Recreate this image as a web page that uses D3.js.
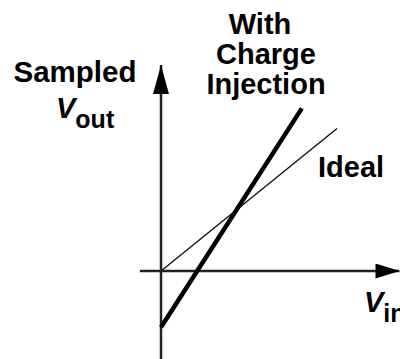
<!DOCTYPE html>
<html>
<head>
<meta charset="utf-8">
<script src="https://cdn.jsdelivr.net/npm/d3@7"></script>
<style>
  html, body { margin: 0; padding: 0; background: #fff; }
  text { font-family: "Liberation Sans", Arial, sans-serif; font-weight: bold; fill: #000; }
</style>
</head>
<body>
<div id="plot"></div>
<script>
// line endpoints in arbitrary units (Vin, Vout)
const idealVin = [0, 10]
const idealVout = [0, 8.1]
const chargeVin = [0, 8.0]
const chargeVout = [-3.2, 9.24]
// how far the axes run
const xAxisExtent = [-1.2, 13.55]
const yAxisExtent = [-5, 11.7]

const width = 400
const height = 359

const svg = d3.select('#plot')
  .append('svg')
  .attr('width', width)
  .attr('height', height)

const x = d3.scaleLinear().domain([0, 10]).range([161, 337])
const y = d3.scaleLinear().domain([0, 10]).range([271, 95])

// arrow heads
const defs = svg.append('defs')
defs.append('marker')
  .attr('id', 'arrowUp')
  .attr('markerUnits', 'userSpaceOnUse')
  .attr('viewBox', '0 0 29 16')
  .attr('refX', 29).attr('refY', 8)
  .attr('markerWidth', 29).attr('markerHeight', 16)
  .attr('orient', 'auto')
  .append('path')
  .attr('d', 'M0,0 L29,8 L0,16 Z')
  .attr('fill', '#000')
defs.append('marker')
  .attr('id', 'arrowRight')
  .attr('markerUnits', 'userSpaceOnUse')
  .attr('viewBox', '0 0 24 15')
  .attr('refX', 24).attr('refY', 7.5)
  .attr('markerWidth', 24).attr('markerHeight', 15)
  .attr('orient', 'auto')
  .append('path')
  .attr('d', 'M0,0 L24,7.5 L0,15 Z')
  .attr('fill', '#000')

// axes
svg.append('line')
  .attr('x1', x(xAxisExtent[0])).attr('x2', x(xAxisExtent[1]))
  .attr('y1', y(0)).attr('y2', y(0))
  .attr('stroke', '#222').attr('stroke-width', 2.5)
  .attr('marker-end', 'url(#arrowRight)')
svg.append('line')
  .attr('x1', x(0)).attr('x2', x(0))
  .attr('y1', y(yAxisExtent[0])).attr('y2', y(yAxisExtent[1]))
  .attr('stroke', '#222').attr('stroke-width', 2.5)
  .attr('marker-end', 'url(#arrowUp)')

const line = d3.line().x(d => x(d[0])).y(d => y(d[1]))

// ideal (thin)
svg.append('path')
  .datum(d3.zip(idealVin, idealVout))
  .attr('d', line)
  .attr('fill', 'none')
  .attr('stroke', '#111')
  .attr('stroke-width', 1.4)

// with charge injection (thick)
svg.append('path')
  .datum(d3.zip(chargeVin, chargeVout))
  .attr('d', line)
  .attr('fill', 'none')
  .attr('stroke', '#000')
  .attr('stroke-width', 4.5)

// labels
svg.append('text').attr('x', 75).attr('y', 82)
  .attr('text-anchor', 'middle').attr('font-size', 29.5).text('Sampled')

const vout = svg.append('text').attr('x', 56).attr('y', 118).attr('font-size', 29)
vout.append('tspan').attr('font-style', 'italic').text('V')
vout.append('tspan').attr('dy', 10).attr('font-size', 25).text('out')

const ciLabel = ['With', 'Charge', 'Injection']
svg.selectAll('text.ci')
  .data(ciLabel)
  .enter()
  .append('text')
  .attr('class', 'ci')
  .attr('x', (d, i) => i === 0 ? 260 : 266)
  .attr('y', (d, i) => 34 + i * 30)
  .attr('text-anchor', 'middle')
  .attr('font-size', 29)
  .text(d => d)

svg.append('text').attr('x', 318).attr('y', 177)
  .attr('font-size', 29).text('Ideal')

const vin = svg.append('text').attr('x', 364).attr('y', 312).attr('font-size', 29)
vin.append('tspan').attr('font-style', 'italic').text('V')
vin.append('tspan').attr('dy', 10).attr('font-size', 25).text('in')
</script>
</body>
</html>
